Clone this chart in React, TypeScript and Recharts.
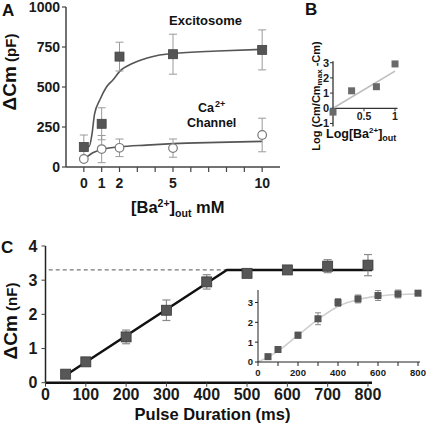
import React from 'react';
import { ComposedChart, Line, Scatter, XAxis, YAxis, ErrorBar, ReferenceLine } from 'recharts';

const FONT = "'Liberation Sans', Arial, Helvetica, sans-serif";

// ---------- Panel A ----------
const baConc = [0, 1, 2, 5, 10];
const excitosomeCm = [125, 270, 690, 705, 732];
const excitosomeErr = [75, 100, 90, 125, 125];
const caChannelCm = [50, 112, 120, 118, 200];
const caChannelErr = [0, 85, 55, 57, 105];
const excFitX = [0, 0.3, 0.45, 0.6, 0.9, 1.27, 1.64, 2, 2.75, 3.5, 4.25, 5, 7.5, 10];
const excFitY = [125, 128, 200, 330, 420, 500, 545, 596, 648, 679, 700, 710, 725, 735];
const caFitX = [0.15, 0.5, 1, 2, 3.5, 5, 7.5, 10];
const caFitY = [62, 89, 110, 126, 137, 146, 154, 160];
const aXTicks = [0, 1, 2, 3, 4, 5, 6, 7, 8, 9, 10];
const aXLabels = [0, 1, 2, 5, 10];
const aYTicks = [0, 250, 500, 750, 1000];

// ---------- Panel B ----------
const logBa = [0, 0.3, 0.7, 1];
const logRatio = [-0.25, 1.15, 1.42, 2.92];
const bFitX = [0, 1];
const bFitY = [0, 2.45];
const bYTicks = [-1, 0, 1, 2, 3];
const bXTickVals = [0.5, 1];
const bXTickLabels = ['0.5', '1'];

// ---------- Panel C ----------
const pulseMs = [50, 100, 200, 300, 400, 500, 600, 700, 800];
const deltaCmNf = [0.25, 0.61, 1.34, 2.12, 2.95, 3.2, 3.3, 3.41, 3.44];
const deltaCmErr = [0.08, 0.08, 0.2, 0.3, 0.21, 0.1, 0.1, 0.19, 0.31];
const cFitX = [50, 450, 810];
const cFitY = [0.22, 3.3, 3.3];
const cDashX = [8, 450];
const cDashY = [3.3, 3.3];
const cXTicks = [0, 100, 200, 300, 400, 500, 600, 700, 800];
const cYTicks = [0, 1, 2, 3, 4];

// ---------- Inset ----------
const insetVals = [0.27, 0.63, 1.35, 2.18, 3.0, 3.18, 3.35, 3.43, 3.47];
const insetErr = [0.08, 0.1, 0.15, 0.3, 0.2, 0.2, 0.25, 0.2, 0.12];
const insetFitX = [0, 100, 200, 300, 400, 500, 600, 700, 800];
const insetFitY = [0, 0.55, 1.35, 2.15, 2.8, 3.15, 3.32, 3.4, 3.43];
const insetXTicks = [0, 100, 200, 300, 400, 500, 600, 700, 800];
const insetXLabels = [0, 200, 400, 600, 800];
const insetYTicks = [0, 1, 2, 3];

const zip = (xs: number[], ys: number[], es?: number[]) =>
  xs.map((x, i) => ({ x, y: ys[i], e: es ? es[i] : 0 }));

const squareShape = (size: number, fill: string, stroke = 'none') => (props: any) => {
  const { cx, cy } = props;
  if (cx == null || cy == null) return <g />;
  return (
    <rect x={cx - size / 2} y={cy - size / 2} width={size} height={size} fill={fill} stroke={stroke} strokeWidth={0.8} />
  );
};

const circleShape = (props: any) => {
  const { cx, cy } = props;
  if (cx == null || cy == null) return <g />;
  return <circle cx={cx} cy={cy} r={4.3} fill="#ffffff" stroke="#7a7a7a" strokeWidth={1.2} />;
};

const bTickShape = (props: any) => {
  const { cx, cy, payload } = props;
  if (cx == null || cy == null) return <g />;
  return (
    <g>
      <line x1={cx} y1={cy} x2={cx} y2={cy + 3} stroke="#333" strokeWidth={1} />
      <text x={cx} y={cy + 11.5} textAnchor="middle" fontSize={10.5} fontWeight="bold" fill="#222" fontFamily={FONT}>
        {payload.label}
      </text>
    </g>
  );
};

const tickStyle = (size: number) => ({ fontSize: size, fontWeight: 'bold', fill: '#1a1a1a', fontFamily: FONT });

export default function App() {
  const excData = zip(baConc, excitosomeCm, excitosomeErr);
  const caData = zip(baConc, caChannelCm, caChannelErr);
  const excFit = zip(excFitX, excFitY);
  const caFit = zip(caFitX, caFitY);

  const bData = zip(logBa, logRatio);
  const bFit = zip(bFitX, bFitY);
  const bTicks = bXTickVals.map((x, i) => ({ x, y: 0, label: bXTickLabels[i] }));

  const cData = zip(pulseMs, deltaCmNf, deltaCmErr);
  const cFit = zip(cFitX, cFitY);
  const cDash = zip(cDashX, cDashY);

  const insetData = zip(pulseMs, insetVals, insetErr);
  const insetFit = zip(insetFitX, insetFitY);

  return (
    <div style={{ position: 'absolute', left: 0, top: 0, width: 427, height: 429, background: '#fff', overflow: 'hidden' }}>
      {/* Panel A */}
      <div style={{ position: 'absolute', left: 0, top: 0 }}>
        <ComposedChart width={300} height={220} margin={{ top: 7, right: 20, left: 0, bottom: 0 }}>
          <XAxis
            type="number"
            dataKey="x"
            domain={[-1, 11]}
            ticks={aXTicks}
            interval={0}
            tickFormatter={(v: number) => (aXLabels.includes(v) ? String(v) : '')}
            tick={tickStyle(14)}
            tickSize={5}
            tickMargin={6}
            height={53}
            axisLine={{ stroke: '#444', strokeWidth: 1.5 }}
            tickLine={{ stroke: '#444', strokeWidth: 1.2 }}
          />
          <YAxis
            type="number"
            domain={[0, 1000]}
            ticks={aYTicks}
            interval={0}
            width={66}
            tick={tickStyle(14)}
            tickSize={4}
            tickMargin={2}
            axisLine={{ stroke: '#444', strokeWidth: 1.5 }}
            tickLine={{ stroke: '#444', strokeWidth: 1.2 }}
          />
          <Line data={excFit} dataKey="y" type="monotone" stroke="#555" strokeWidth={1.6} dot={false} isAnimationActive={false} />
          <Line data={caFit} dataKey="y" type="monotone" stroke="#555" strokeWidth={1.6} dot={false} isAnimationActive={false} />
          <Scatter data={caData} dataKey="y" shape={circleShape} isAnimationActive={false}>
            <ErrorBar dataKey="e" direction="y" width={4} stroke="#9a9a9a" strokeWidth={1} isAnimationActive={false} />
          </Scatter>
          <Scatter data={excData} dataKey="y" shape={squareShape(9, '#555555', '#444')} isAnimationActive={false}>
            <ErrorBar dataKey="e" direction="y" width={4} stroke="#9a9a9a" strokeWidth={1} isAnimationActive={false} />
          </Scatter>
        </ComposedChart>
      </div>

      {/* Panel B */}
      <div style={{ position: 'absolute', left: 300, top: 0 }}>
        <ComposedChart width={127} height={160} margin={{ top: 61.2, right: 29.5, left: 0, bottom: 33.5 }}>
          <XAxis type="number" dataKey="x" domain={[0, 1.04]} hide />
          <YAxis
            type="number"
            domain={[-1.2, 3.1]}
            ticks={bYTicks}
            interval={0}
            width={33}
            tick={tickStyle(11)}
            tickSize={3}
            tickMargin={1}
            axisLine={{ stroke: '#333', strokeWidth: 1.3 }}
            tickLine={{ stroke: '#333', strokeWidth: 1 }}
          />
          <ReferenceLine y={0} stroke="#333" strokeWidth={1.3} />
          <Line data={bFit} dataKey="y" type="linear" stroke="#bdbdbd" strokeWidth={1.6} dot={false} isAnimationActive={false} />
          <Scatter data={bTicks} dataKey="y" shape={bTickShape} isAnimationActive={false} />
          <Scatter data={bData} dataKey="y" shape={squareShape(7, '#6a6a6a')} isAnimationActive={false} />
        </ComposedChart>
      </div>

      {/* Panel C */}
      <div style={{ position: 'absolute', left: 0, top: 220 }}>
        <ComposedChart width={427} height={209} margin={{ top: 26, right: 55, left: 0, bottom: 0 }}>
          <XAxis
            type="number"
            dataKey="x"
            domain={[0, 810]}
            ticks={cXTicks}
            interval={0}
            tick={tickStyle(16)}
            tickSize={4}
            tickMargin={1.5}
            height={46.3}
            axisLine={{ stroke: '#111', strokeWidth: 2.5 }}
            tickLine={{ stroke: '#444', strokeWidth: 1 }}
          />
          <YAxis
            type="number"
            domain={[0, 4]}
            ticks={cYTicks}
            interval={0}
            width={45.5}
            tick={tickStyle(16)}
            tickSize={4}
            tickMargin={4}
            axisLine={{ stroke: '#222', strokeWidth: 1.5 }}
            tickLine={{ stroke: '#444', strokeWidth: 1 }}
          />
          <Line data={cDash} dataKey="y" type="linear" stroke="#777" strokeWidth={1.3} strokeDasharray="4 3" dot={false} isAnimationActive={false} />
          <Line data={cFit} dataKey="y" type="linear" stroke="#111" strokeWidth={2.5} dot={false} isAnimationActive={false} />
          <Scatter data={cData} dataKey="y" shape={squareShape(10, '#575757', '#3a3a3a')} isAnimationActive={false}>
            <ErrorBar dataKey="e" direction="y" width={4} stroke="#8a8a8a" strokeWidth={1.2} isAnimationActive={false} />
          </Scatter>
        </ComposedChart>
      </div>

      {/* Inset */}
      <div style={{ position: 'absolute', left: 230, top: 285 }}>
        <ComposedChart width={197} height={100} margin={{ top: 5, right: 7, left: 0, bottom: 0 }}>
          <XAxis
            type="number"
            dataKey="x"
            domain={[0, 810]}
            ticks={insetXTicks}
            interval={0}
            tickFormatter={(v: number) => (insetXLabels.includes(v) ? String(v) : '')}
            tick={tickStyle(9.5)}
            tickSize={4}
            tickMargin={3}
            height={23}
            axisLine={{ stroke: '#222', strokeWidth: 1 }}
            tickLine={{ stroke: '#222', strokeWidth: 1 }}
          />
          <YAxis
            type="number"
            domain={[0, 3.6]}
            ticks={insetYTicks}
            interval={0}
            width={28}
            tick={tickStyle(9.5)}
            tickSize={3}
            tickMargin={2}
            axisLine={{ stroke: '#222', strokeWidth: 1 }}
            tickLine={{ stroke: '#222', strokeWidth: 1 }}
          />
          <Line data={insetFit} dataKey="y" type="monotone" stroke="#cfcfcf" strokeWidth={1.6} dot={false} isAnimationActive={false} />
          <Scatter data={insetData} dataKey="y" shape={squareShape(7, '#555555')} isAnimationActive={false}>
            <ErrorBar dataKey="e" direction="y" width={3} stroke="#8a8a8a" strokeWidth={1} isAnimationActive={false} />
          </Scatter>
        </ComposedChart>
      </div>

      {/* Text overlay */}
      <svg
        width={427}
        height={429}
        style={{ position: 'absolute', left: 0, top: 0, pointerEvents: 'none', fontFamily: FONT }}
      >
        <g fill="#111" fontWeight="bold">
          <text x={2} y={16} fontSize={17}>A</text>
          <text x={305} y={15} fontSize={17}>B</text>
          <text x={1} y={253} fontSize={17}>C</text>

          <text transform="translate(16,72) rotate(-90)" textAnchor="middle">
            <tspan fontSize={19}>ΔCm</tspan>
            <tspan fontSize={15}> (pF)</tspan>
          </text>
          <text transform="translate(17,321) rotate(-90)" textAnchor="middle">
            <tspan fontSize={19}>ΔCm</tspan>
            <tspan fontSize={15}> (nF)</tspan>
          </text>

          <text x={131} y={213} fontSize={16.5}>
            [Ba<tspan fontSize={10.5} dy={-6}>2+</tspan>
            <tspan dy={6}>]</tspan>
            <tspan fontSize={10.5} dy={4}>out</tspan>
            <tspan dy={-4}> mM</tspan>
          </text>

          <text x={169} y={25} fontSize={13}>Excitosome</text>
          <text x={198} y={111.5} fontSize={12.5}>
            Ca<tspan fontSize={9} dx={1} dy={-5}>2+</tspan>
          </text>
          <text x={187} y={126.5} fontSize={12.5}>Channel</text>

          <text transform="translate(320,96) rotate(-90)" textAnchor="middle" fontSize={11}>
            Log (Cm/Cm<tspan fontSize={8} dy={2}>max</tspan>
            <tspan dy={-2}> -Cm)</tspan>
          </text>
          <text x={326} y={137.5} fontSize={12.5}>
            Log[Ba<tspan fontSize={8} dy={-5}>2+</tspan>
            <tspan dy={5}>]</tspan>
            <tspan fontSize={9} dy={3}>out</tspan>
          </text>

          <text x={212.5} y={420} fontSize={16.5} textAnchor="middle">Pulse Duration (ms)</text>
        </g>
      </svg>
    </div>
  );
}
